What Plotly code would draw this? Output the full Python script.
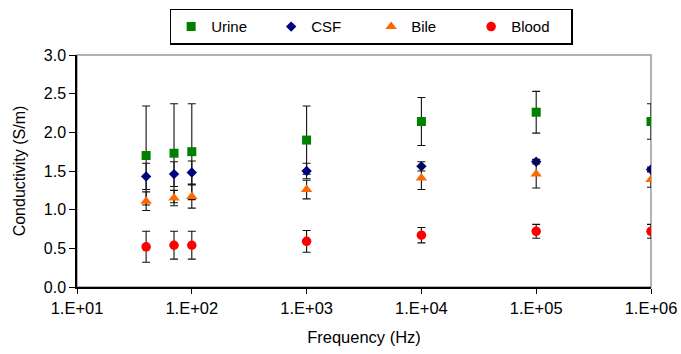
import plotly.graph_objects as go

freq = [40, 70, 100, 1e3, 1e4, 1e5, 1e6]
urine = [1.70, 1.73, 1.75, 1.90, 2.14, 2.26, 2.14]
urine_err = [0.64, 0.64, 0.62, 0.44, 0.31, 0.27, 0.23]
csf = [1.43, 1.46, 1.48, 1.50, 1.56, 1.62, 1.52]
csf_err = [0.17, 0.16, 0.15, 0.10, 0.06, 0.03, 0.03]
bile = [1.11, 1.15, 1.17, 1.26, 1.41, 1.46, 1.39]
bile_err = [0.12, 0.10, 0.15, 0.12, 0.15, 0.18, 0.10]
blood = [0.52, 0.54, 0.54, 0.59, 0.67, 0.72, 0.72]
blood_err = [0.20, 0.18, 0.18, 0.14, 0.10, 0.09, 0.09]

x_tickvals = [1e1, 1e2, 1e3, 1e4, 1e5, 1e6]
x_ticktext = ["1.E+01", "1.E+02", "1.E+03", "1.E+04", "1.E+05", "1.E+06"]

series = [
    ("Urine", urine, urine_err, "#008000", "square", 9),
    ("CSF", csf, csf_err, "#000080", "diamond", 8),
    ("Bile", bile, bile_err, "#FF6600", "triangle-up", 10),
    ("Blood", blood, blood_err, "#FF0000", "circle", 9.5),
]

fig = go.Figure()
for name, y, e, c, sym, sz in series:
    fig.add_trace(go.Scatter(
        x=freq, y=y, name=name, mode="markers",
        marker=dict(symbol=sym, size=sz, color=c, line=dict(width=0)),
        error_y=dict(type="data", array=e, visible=True, color="#111111",
                     thickness=1.1, width=4),
    ))

fig.add_shape(type="rect", xref="x domain", yref="y domain", x0=0, x1=1, y0=0, y1=1,
              line=dict(color="#999999", width=1.5), layer="below")

fig.update_layout(
    width=681, height=354,
    margin=dict(l=77, r=30, t=55, b=67, autoexpand=False),
    paper_bgcolor="white", plot_bgcolor="white",
    font=dict(family="Liberation Sans, Arial, sans-serif", size=15, color="black"),
    showlegend=True,
    legend=dict(orientation="h", xref="container", yref="container",
                x=0.545, xanchor="center", y=0.975, yanchor="top",
                bordercolor="black", borderwidth=1.5, font=dict(size=15),
                entrywidth=55, entrywidthmode="pixels",
                itemwidth=30, tracegroupgap=0),
)
fig.update_xaxes(
    type="log", range=[1, 6], tickvals=x_tickvals, ticktext=x_ticktext,
    showgrid=False, zeroline=False, showline=True, linecolor="black", linewidth=1.5,
    ticks="outside", ticklen=5, tickcolor="black", automargin=False,
    title=dict(text="Frequency (Hz)", standoff=16, font=dict(size=16.5)),
    tickfont=dict(size=16.5),
)
fig.update_yaxes(
    range=[0, 3], dtick=0.5, tickformat=".1f",
    showgrid=False, zeroline=False, showline=True, linecolor="black", linewidth=1.5,
    ticks="outside", ticklen=6, tickcolor="black", automargin=False,
    title=dict(text="Conductivity (S/m)", standoff=14, font=dict(size=16)),
    tickfont=dict(size=16),
)

fig.write_html("out.html")
